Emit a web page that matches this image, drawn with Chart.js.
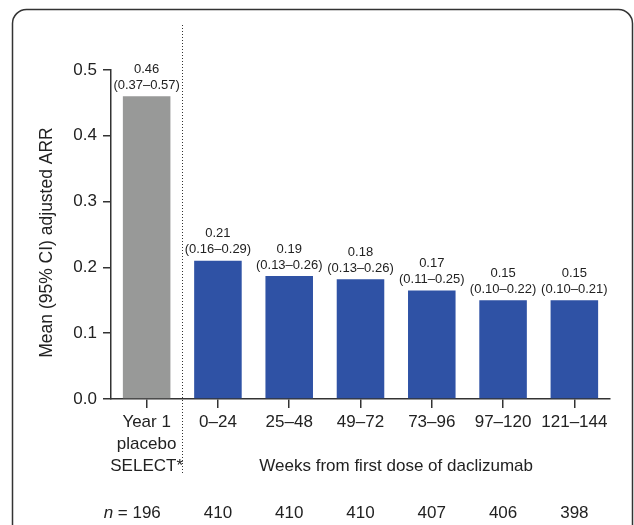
<!DOCTYPE html>
<html>
<head>
<meta charset="utf-8">
<script src="https://cdn.jsdelivr.net/npm/chart.js@4.4.1/dist/chart.umd.min.js"></script>
<style>
    html, body { margin: 0; padding: 0; background: #fff; }
</style>
</head>
<body>
<canvas id="boxChartArr" width="634" height="525"></canvas>
<script>
const categories = [['Year 1', 'placebo', 'SELECT*'], '0–24', '25–48', '49–72', '73–96', '97–120', '121–144'];
const arrMeans = [0.46, 0.21, 0.187, 0.182, 0.165, 0.15, 0.15];
const meanLabels = ['0.46', '0.21', '0.19', '0.18', '0.17', '0.15', '0.15'];
const ciLower = [0.37, 0.16, 0.13, 0.13, 0.11, 0.10, 0.10];
const ciUpper = [0.57, 0.29, 0.26, 0.26, 0.25, 0.22, 0.21];
const patientCounts = [196, 410, 410, 410, 407, 406, 398];
const yTicks = [0, 0.1, 0.2, 0.3, 0.4, 0.5];

const fontFamily = "'Liberation Sans', Arial, Helvetica, sans-serif";
const inkColor = '#222222';
const barColors = arrMeans.map((v, i) => i === 0 ? '#989998' : '#2f52a5');

const decorPlugin = {
    id: 'decor',
    beforeDraw(chart) {
        const ctx = chart.ctx;
        ctx.save();
        ctx.fillStyle = '#fff';
        ctx.fillRect(0, 0, chart.width, chart.height);
        ctx.strokeStyle = '#333';
        ctx.lineWidth = 1.5;
        ctx.beginPath();
        ctx.roundRect(12.5, 9.5, 620, 560, 14);
        ctx.stroke();
        ctx.restore();
    },
    afterDatasetsDraw(chart) {
        const ctx = chart.ctx;
        const meta = chart.getDatasetMeta(0);
        ctx.save();
        ctx.fillStyle = inkColor;
        ctx.font = `13px ${fontFamily}`;
        ctx.textAlign = 'center';
        ctx.textBaseline = 'middle';
        meta.data.forEach((bar, i) => {
            const ci = `(${ciLower[i].toFixed(2)}–${ciUpper[i].toFixed(2)})`;
            ctx.fillText(ci, bar.x, bar.y - 11);
            ctx.fillText(meanLabels[i], bar.x, bar.y - 27);
        });
        ctx.restore();
    },
    afterDraw(chart) {
        const ctx = chart.ctx;
        const x = chart.scales.x;
        const area = chart.chartArea;
        ctx.save();

        // dotted divider between placebo and daclizumab
        const divX = Math.round((x.getPixelForTick(0) + x.getPixelForTick(1)) / 2) + 0.5;
        ctx.strokeStyle = '#333';
        ctx.lineWidth = 1;
        ctx.setLineDash([1, 2]);
        ctx.beginPath();
        ctx.moveTo(divX, 25);
        ctx.lineTo(divX, 474);
        ctx.stroke();
        ctx.setLineDash([]);

        ctx.fillStyle = inkColor;
        ctx.textBaseline = 'middle';

        // y title
        ctx.save();
        ctx.translate(47, (area.top + area.bottom) / 2 + 8);
        ctx.rotate(-Math.PI / 2);
        ctx.textAlign = 'center';
        ctx.font = `17.5px ${fontFamily}`;
        ctx.fillText('Mean (95% CI) adjusted ARR', 0, 0);
        ctx.restore();

        // x title under daclizumab groups
        ctx.font = `17px ${fontFamily}`;
        ctx.textAlign = 'center';
        const weeksX = (x.getPixelForTick(1) + x.getPixelForTick(categories.length - 1)) / 2;
        ctx.fillText('Weeks from first dose of daclizumab', weeksX, 466);

        // n row
        const nY = 513;
        patientCounts.forEach((n, i) => {
            const px = x.getPixelForTick(i);
            ctx.textAlign = 'center';
            ctx.font = `17px ${fontFamily}`;
            ctx.fillText(String(n), px, nY);
            if (i === 0) {
                const half = ctx.measureText(String(n)).width / 2;
                ctx.textAlign = 'right';
                ctx.fillText(' = ', px - half, nY);
                const eqW = ctx.measureText(' = ').width;
                ctx.font = `italic 17px ${fontFamily}`;
                ctx.fillText('n', px - half - eqW, nY);
            }
        });
        ctx.restore();
    }
};

const boxChartArr = document.getElementById('boxChartArr');
boxChartArr.chart = new Chart(boxChartArr, {
    type: 'bar',
    data: {
        labels: categories,
        datasets: [{
            data: arrMeans,
            backgroundColor: barColors,
            borderWidth: 0,
            barPercentage: 0.667,
            categoryPercentage: 1
        }]
    },
    options: {
        responsive: false,
        animation: false,
        devicePixelRatio: 1,
        layout: {
            padding: { top: 70, right: 24, left: 0, bottom: 0 }
        },
        plugins: {
            legend: { display: false },
            tooltip: { enabled: false }
        },
        scales: {
            x: {
                afterFit: (scale) => { scale.height = 126; },
                border: { display: true, color: '#333', width: 1.5 },
                grid: {
                    offset: false,
                    drawOnChartArea: false,
                    drawTicks: true,
                    tickLength: 9,
                    color: '#333',
                    lineWidth: 1.5
                },
                ticks: {
                    autoSkip: false,
                    maxRotation: 0,
                    padding: 4,
                    color: inkColor,
                    font: { family: fontFamily, size: 17, lineHeight: 1.27 }
                }
            },
            y: {
                min: 0,
                max: 0.5,
                afterFit: (scale) => { scale.width = 111; },
                afterBuildTicks: (scale) => { scale.ticks = yTicks.map(v => ({ value: v })); },
                border: { display: true, color: '#333', width: 1.5 },
                grid: {
                    drawOnChartArea: false,
                    drawTicks: true,
                    tickLength: 8,
                    color: '#333',
                    lineWidth: 1.5
                },
                ticks: {
                    padding: 6,
                    color: inkColor,
                    font: { family: fontFamily, size: 17 },
                    callback: (v) => Number(v).toFixed(1)
                }
            }
        }
    },
    plugins: [decorPlugin]
});
</script>
</body>
</html>
